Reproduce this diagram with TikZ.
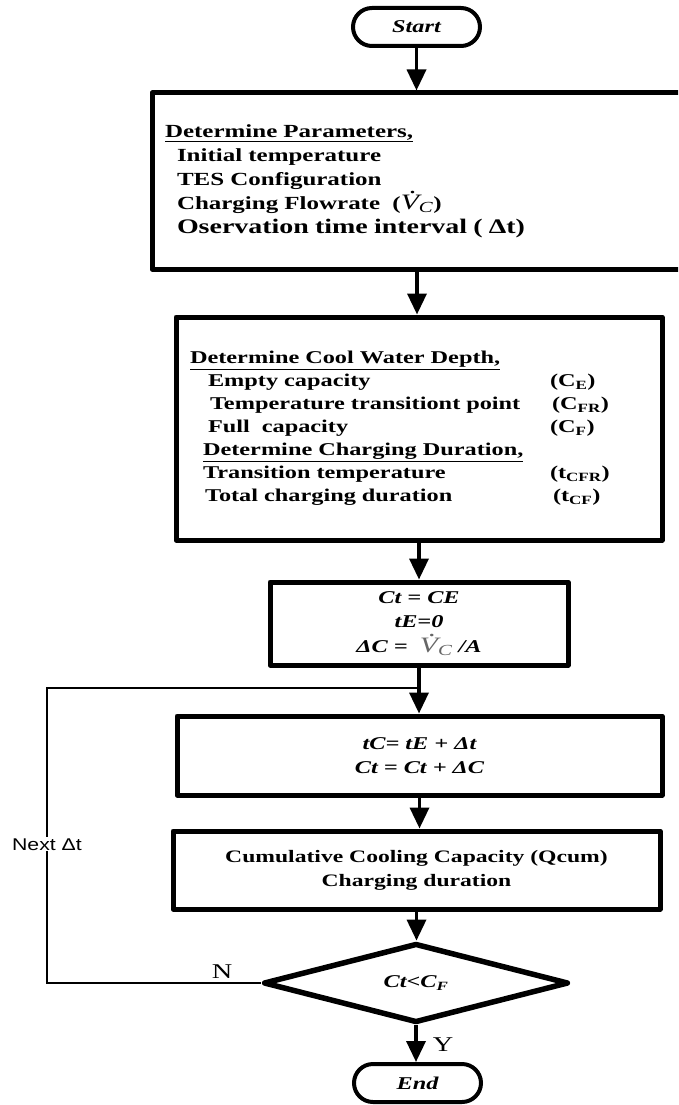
\documentclass[tikz,border=0pt]{standalone}
\usepackage{fontspec}
\setmainfont{Liberation Serif}[FakeStretch=1.35]
\newfontfamily\arialfont{Liberation Sans}[FakeStretch=1.25]
\usepackage{xcolor}
\usetikzlibrary{shapes.geometric,arrows.meta,positioning,calc}
\newcommand{\vflow}{{\mdseries\itshape\fontsize{22}{24}\selectfont\makebox[0pt][l]{\hspace{0.40em}\raisebox{0.70em}{.}}V\textsubscript{C}}}

\begin{document}
\begin{tikzpicture}[x=1pt, y=-1pt, >={Triangle[length=21pt,width=19pt]},
    box/.style={draw, rectangle, line width=5pt, line join=round, inner sep=0pt},
    term/.style={draw, rectangle, line width=4pt, rounded corners=19pt, minimum width=127pt, minimum height=38pt, font=\bfseries\itshape\fontsize{18}{22}\selectfont},
    decide/.style={draw, diamond, line width=5.5pt, line join=round, minimum width=305pt, minimum height=73pt, inner sep=0pt, font=\bfseries\itshape\fontsize{18}{22}\selectfont},
    flow/.style={->, line width=3.5pt},
    loopline/.style={line width=2.5pt},
    yn/.style={font=\fontsize{21}{24}\selectfont}]
    \useasboundingbox (0,0) rectangle (678,1105);
    \clip (0,0) rectangle (678,1105);

    \node[term] (start) at (416.5,27) {Start};

    \node[box, minimum width=530pt, minimum height=176pt, text width=504pt, inner xsep=13pt, align=left,
        font=\bfseries\fontsize{18.5}{24}\selectfont] (param) at (417,181) {%
        \underline{Determine Parameters,}\\
        \hspace*{12pt}Initial temperature\\
        \hspace*{12pt}TES Configuration\\
        \hspace*{12pt}Charging Flowrate~~(\vflow)\\
        \hspace*{12pt}{\fontsize{20.7}{24}\selectfont Oservation time interval~(~Δt)}};

    \node[box, minimum width=486pt, minimum height=223pt, text width=458pt, inner xsep=14pt, align=left,
        font=\bfseries\fontsize{18}{23}\selectfont] (depth) at (419,428.5) {%
        \underline{Determine Cool Water Depth,}\\
        \hspace*{18pt}\makebox[342pt][l]{Empty capacity}(C\textsubscript{E})\\
        \hspace*{20pt}\makebox[342pt][l]{Temperature transitiont point}(C\textsubscript{FR})\\
        \hspace*{18pt}\makebox[342pt][l]{Full~~capacity}(C\textsubscript{F})\\
        \hspace*{13pt}\underline{Determine Charging Duration,}\\
        \hspace*{13pt}\makebox[347pt][l]{Transition temperature}(t\textsubscript{CFR})\\
        \hspace*{15pt}\makebox[348pt][l]{Total charging duration}(t\textsubscript{CF})};

    \node[box, minimum width=298pt, minimum height=83pt, align=center,
        font=\bfseries\itshape\fontsize{18}{24.5}\selectfont] (init) at (419,623.5) {%
        Ct = CE\\
        tE=0\\
        ΔC =~~{\color{black!60}\vflow}~/A};

    \node[box, minimum width=485pt, minimum height=79pt, align=center,
        font=\bfseries\itshape\fontsize{18}{24}\selectfont] (update) at (419.5,755.5) {%
        tC= tE + Δt\\
        Ct = Ct + ΔC};

    \node[box, minimum width=487pt, minimum height=78pt, align=center,
        font=\bfseries\fontsize{17.5}{24}\selectfont] (result) at (416.5,870) {%
        Cumulative Cooling Capacity (Qcum)\\
        Charging duration};

    \node[decide] (check) at (416,983) {Ct<C\textsubscript{F}};

    \node[term] (finish) at (417.5,1083) {End};

    \foreach \from/\to in {start/param, param/depth, depth/init, init/update, update/result, result/check, check/finish}
        \draw[flow] (\from.south) -- (\from.south |- \to.north);

    \coordinate (loopbl) at (47,983);
    \coordinate (looptl) at (47,688);
    \coordinate (merge) at (419,688);
    \draw[loopline] (check.west) -- (loopbl) -- node[pos=0.47, fill=white, inner sep=1pt,
        font=\arialfont\fontsize{17}{20}\selectfont] (nextdt) {Next Δt} (looptl) -- (merge);

    \node[yn] (nlabel) at (222,972) {N};
    \node[yn] (ylabel) at (443,1045) {Y};
\end{tikzpicture}
\end{document}
